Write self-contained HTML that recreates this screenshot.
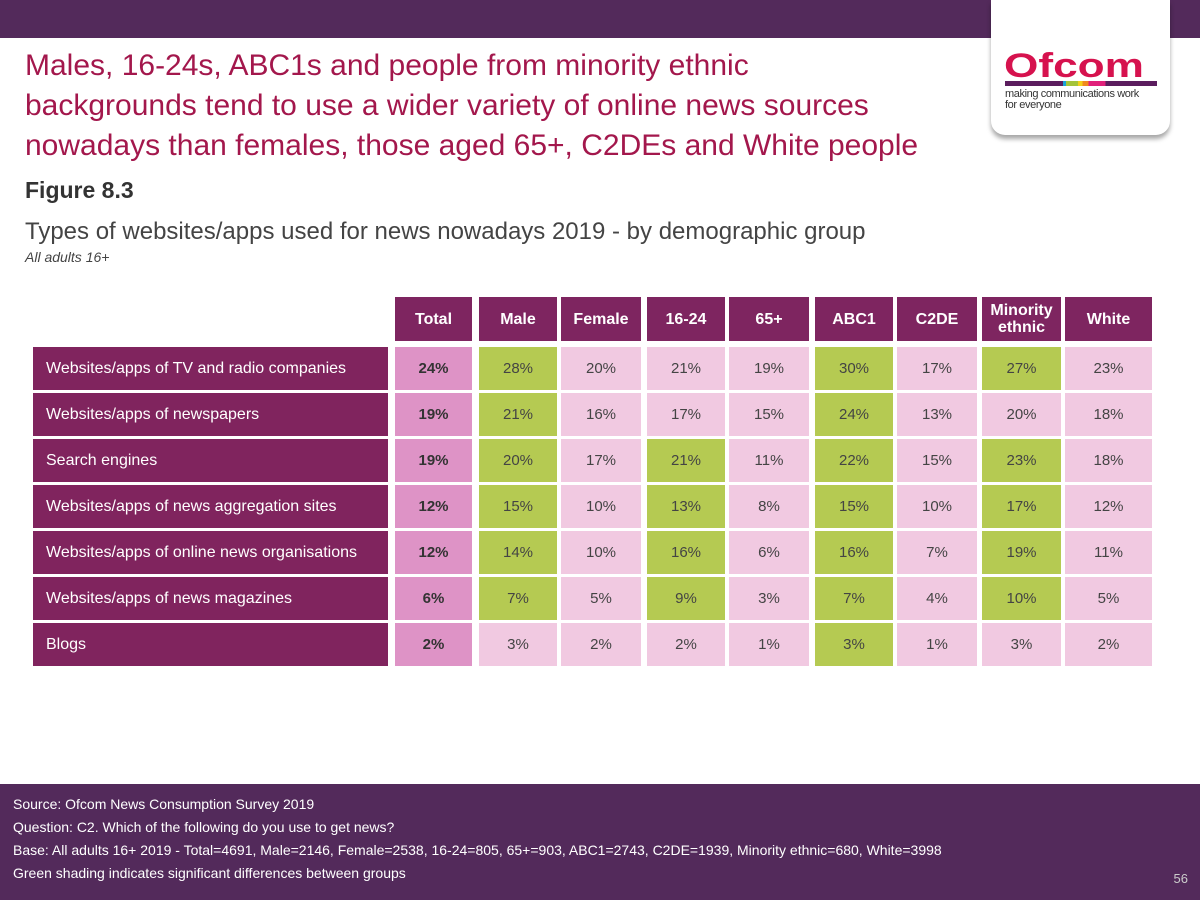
<!DOCTYPE html>
<html><head><meta charset="utf-8">
<style>
*{margin:0;padding:0;box-sizing:border-box}
body{width:1200px;height:900px;position:relative;background:#fff;font-family:"Liberation Sans","DejaVu Sans",sans-serif;overflow:hidden}
.abs{position:absolute}
.cell{position:absolute;display:flex;align-items:center;justify-content:center;font-size:15px;color:#444}
.hdr{background:#7e2560;color:#fff;font-weight:bold;font-size:16px;text-align:center;line-height:17px}
.lab{background:#80245e;color:#fff;justify-content:flex-start;padding-left:13px;font-size:16px}
</style></head><body>
<div class="abs" style="left:0;top:0;width:1200px;height:38px;background:#532a5b"></div>
<div class="abs" style="left:991px;top:0;width:179px;height:135px;background:#fff;border-radius:0 0 14px 14px;box-shadow:0 4px 5px rgba(0,0,0,0.35)">
  <div style="position:absolute;left:13px;top:50px;font:bold 34px 'Liberation Sans',sans-serif;color:#d6124e;line-height:32px;transform:scaleX(1.3);transform-origin:left">Ofcom</div>
  <div style="position:absolute;left:14px;top:81px;width:152px;height:5px;background:linear-gradient(90deg,#5b1d5e 0 38%,#1aa3d8 38% 40%,#a4c43a 40% 48%,#f3d21a 48% 51%,#f08a1e 51% 55%,#e0207a 55% 66%,#5b1d5e 66%)"></div>
  <div style="position:absolute;left:14px;top:89px;font-size:11px;line-height:11px;color:#333;letter-spacing:-0.4px">making communications work<br>for everyone</div>
</div>
<div class="abs" style="left:25px;top:46px;font-size:30px;line-height:40px;color:#a3174c;white-space:nowrap">Males, 16-24s, ABC1s and people from minority ethnic<br>backgrounds tend to use a wider variety of online news sources<br>nowadays than females, those aged 65+, C2DEs and White people</div>
<div class="abs" style="left:25px;top:177px;font-size:23px;font-weight:bold;color:#333">Figure 8.3</div>
<div class="abs" style="left:25px;top:218px;font-size:24px;color:#444">Types of websites/apps used for news nowadays 2019 - by demographic group</div>
<div class="abs" style="left:25px;top:249px;font-size:14px;font-style:italic;color:#444">All adults 16+</div>
<div id="tbl"></div>
<div class="abs" style="left:0;top:784px;width:1200px;height:116px;background:#532a5b;color:#fff;font-size:14px;line-height:23px;padding:9px 0 0 13px">
<div>Source: Ofcom News Consumption Survey 2019</div>
<div>Question: C2. Which of the following do you use to get news?</div>
<div>Base: All adults 16+ 2019 - Total=4691, Male=2146, Female=2538, 16-24=805, 65+=903, ABC1=2743, C2DE=1939, Minority ethnic=680, White=3998</div>
<div>Green shading indicates significant differences between groups</div>
<div class="abs" style="right:12px;top:83px;color:#ccc;font-size:13px">56</div>
</div>
<script>
const columns=["Total","Male","Female","16-24","65+","ABC1","C2DE","Minority<br>ethnic","White"];
const rowLabels=["Websites/apps of TV and radio companies","Websites/apps of newspapers","Search engines","Websites/apps of news aggregation sites","Websites/apps of online news organisations","Websites/apps of news magazines","Blogs"];
const values=[
[24,28,20,21,19,30,17,27,23],
[19,21,16,17,15,24,13,20,18],
[19,20,17,21,11,22,15,23,18],
[12,15,10,13,8,15,10,17,12],
[12,14,10,16,6,16,7,19,11],
[6,7,5,9,3,7,4,10,5],
[2,3,2,2,1,3,1,3,2]];
const significant=[
[0,1,0,0,0,1,0,1,0],
[0,1,0,0,0,1,0,0,0],
[0,1,0,1,0,1,0,1,0],
[0,1,0,1,0,1,0,1,0],
[0,1,0,1,0,1,0,1,0],
[0,1,0,1,0,1,0,1,0],
[0,0,0,0,0,1,0,0,0]];
const colX=[395,479,561,647,729,815,897,982,1065];
const colW=[77,78,80,78,80,78,80,79,87];
const tbl=document.getElementById('tbl');
function mk(cls,x,y,w,h,html){const d=document.createElement('div');d.className='cell '+cls;d.style.left=x+'px';d.style.top=y+'px';d.style.width=w+'px';d.style.height=h+'px';d.innerHTML=html;tbl.appendChild(d);return d;}
columns.forEach((c,i)=>{const d=mk('hdr',colX[i],297,colW[i],44,c);

});
rowLabels.forEach((r,j)=>{const y=347+j*46,h=43;
const l=mk('lab',33,y,355,h,r);


values[j].forEach((v,i)=>{const bg=i===0?'#de93c6':(significant[j][i]?'#b5ca52':'#f1c9e1');
const c=mk('',colX[i],y,colW[i],h,v+'%');c.style.background=bg;if(i===0){c.style.fontWeight='bold';c.style.color='#333';}

});});
</script>
</body></html>
